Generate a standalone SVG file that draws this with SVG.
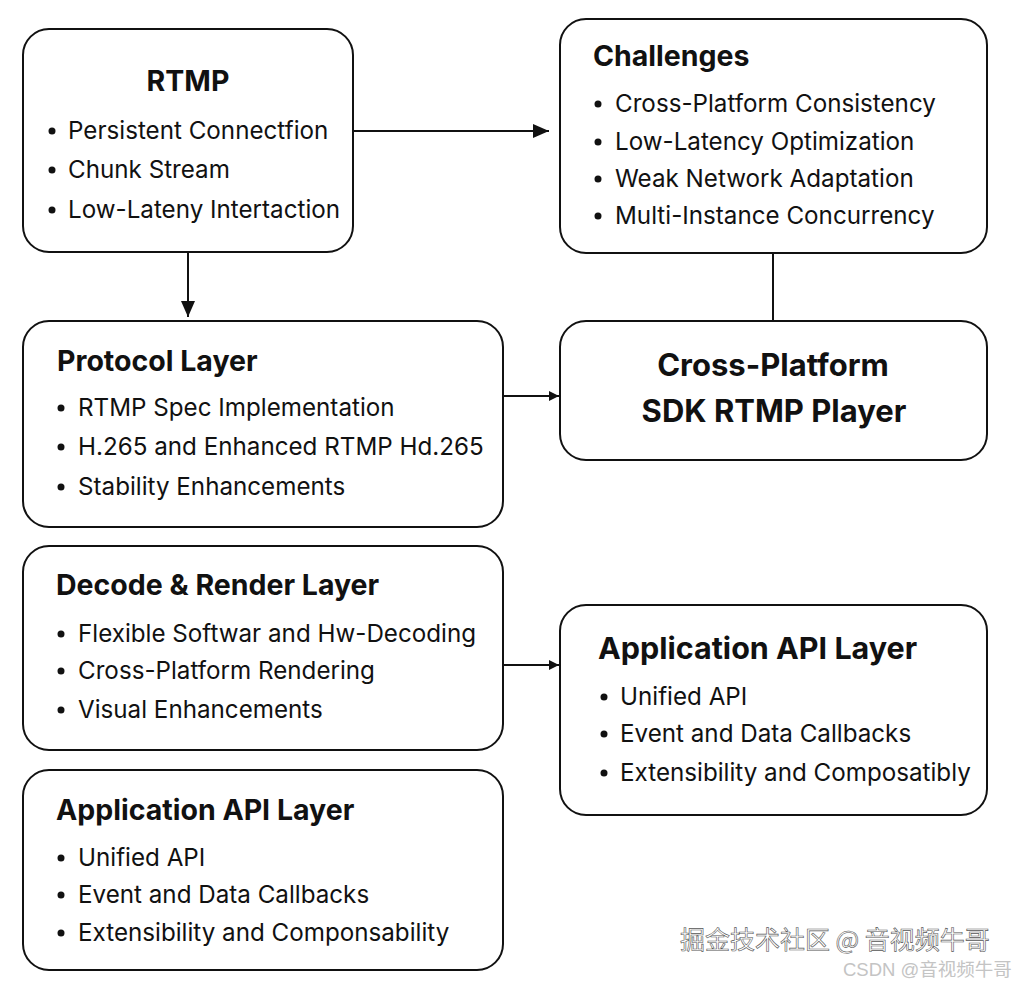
<svg xmlns="http://www.w3.org/2000/svg" width="1017" height="984" viewBox="0 0 1017 984">
<defs>
<marker id="arr" viewBox="0 0 10 10" refX="10" refY="5" markerWidth="10" markerHeight="10" markerUnits="userSpaceOnUse" orient="auto"><path d="M0,0 L10,5 L0,10 z" fill="#111"/></marker>
<marker id="arrL" viewBox="0 0 16 14" refX="16" refY="7" markerWidth="16" markerHeight="14" markerUnits="userSpaceOnUse" orient="auto"><path d="M0,0 L16,7 L0,14 z" fill="#111"/></marker>
<style>
.box{fill:#fff;stroke:#111;stroke-width:2}
.t{font-family:Inter,"Noto Sans",sans-serif;font-weight:700;fill:#111}
.b{font-family:Inter,"Noto Sans",sans-serif;font-size:24.2px;fill:#111}
.dot{fill:#111}
.c{stroke:#111;stroke-width:2;fill:none}
.wm{font-family:"Noto Sans CJK SC",sans-serif;font-size:25px;fill:#fff;stroke:#555;stroke-width:0.6}
.wm2{font-family:"Liberation Sans","Noto Sans CJK SC",sans-serif;font-size:18.5px;fill:#c4c4c4}
</style>
</defs>
<rect width="1017" height="984" fill="#fff"/>
<g id="connectors">
<line class="c" x1="353" y1="131" x2="549" y2="131" marker-end="url(#arrL)"/>
<line class="c" x1="188" y1="252" x2="188" y2="317" marker-end="url(#arrL)"/>
<line class="c" x1="773" y1="253" x2="773" y2="321"/>
<line class="c" x1="503" y1="396" x2="559" y2="396" marker-end="url(#arr)"/>
<line class="c" x1="503" y1="665" x2="559" y2="665" marker-end="url(#arr)"/>
</g>
<g id="rtmp">
<rect class="box" x="23" y="29" width="330" height="223" rx="26"/>
<text class="t" x="188" y="91" font-size="28.5" text-anchor="middle">RTMP</text>
<circle class="dot" cx="52" cy="131" r="3.5"/><text class="b" x="68" y="139">Persistent Connectfion</text>
<circle class="dot" cx="52" cy="170" r="3.5"/><text class="b" x="68" y="178">Chunk Stream</text>
<circle class="dot" cx="52" cy="210" r="3.5"/><text class="b" x="68" y="218">Low-Lateny Intertaction</text>
</g>
<g id="challenges">
<rect class="box" x="560" y="19" width="427" height="234" rx="26"/>
<text class="t" x="593" y="66" font-size="28.5">Challenges</text>
<circle class="dot" cx="598" cy="104" r="3.5"/><text class="b" x="615" y="112">Cross-Platform Consistency</text>
<circle class="dot" cx="598" cy="142" r="3.5"/><text class="b" x="615" y="150">Low-Latency Optimization</text>
<circle class="dot" cx="598" cy="179" r="3.5"/><text class="b" x="615" y="187">Weak Network Adaptation</text>
<circle class="dot" cx="598" cy="216" r="3.5"/><text class="b" x="615" y="224">Multi-Instance Concurrency</text>
</g>
<g id="protocol">
<rect class="box" x="23" y="321" width="480" height="206" rx="26"/>
<text class="t" x="57" y="371" font-size="28.5">Protocol Layer</text>
<circle class="dot" cx="61" cy="408" r="3.5"/><text class="b" x="78" y="416">RTMP Spec Implementation</text>
<circle class="dot" cx="61" cy="447" r="3.5"/><text class="b" x="78" y="455">H.265 and Enhanced RTMP Hd.265</text>
<circle class="dot" cx="61" cy="487" r="3.5"/><text class="b" x="78" y="495">Stability Enhancements</text>
</g>
<g id="player">
<rect class="box" x="560" y="321" width="427" height="139" rx="26"/>
<text class="t" x="773" y="376" font-size="31" text-anchor="middle">Cross-Platform</text>
<text class="t" x="774" y="422" font-size="31" text-anchor="middle">SDK RTMP Player</text>
</g>
<g id="decode">
<rect class="box" x="23" y="546" width="480" height="204" rx="26"/>
<text class="t" x="56" y="595" font-size="28.5">Decode &amp; Render Layer</text>
<circle class="dot" cx="61" cy="634" r="3.5"/><text class="b" x="78" y="642">Flexible Softwar and Hw-Decoding</text>
<circle class="dot" cx="61" cy="671" r="3.5"/><text class="b" x="78" y="679">Cross-Platform Rendering</text>
<circle class="dot" cx="61" cy="710" r="3.5"/><text class="b" x="78" y="718">Visual Enhancements</text>
</g>
<g id="app-right">
<rect class="box" x="560" y="605" width="427" height="210" rx="26"/>
<text class="t" x="598" y="659" font-size="30.5">Application API Layer</text>
<circle class="dot" cx="604" cy="697" r="3.5"/><text class="b" x="620" y="705">Unified API</text>
<circle class="dot" cx="604" cy="734" r="3.5"/><text class="b" x="620" y="742">Event and Data Callbacks</text>
<circle class="dot" cx="604" cy="773" r="3.5"/><text class="b" x="620" y="781">Extensibility and Composatibly</text>
</g>
<g id="app-left">
<rect class="box" x="23" y="770" width="480" height="200" rx="26"/>
<text class="t" x="56" y="820" font-size="28.5">Application API Layer</text>
<circle class="dot" cx="61" cy="858" r="3.5"/><text class="b" x="78" y="866">Unified API</text>
<circle class="dot" cx="61" cy="895" r="3.5"/><text class="b" x="78" y="903">Event and Data Callbacks</text>
<circle class="dot" cx="61" cy="933" r="3.5"/><text class="b" x="78" y="941">Extensibility and Componsability</text>
</g>
<g id="watermark">
<text class="wm" x="680" y="949">掘金技术社区 @ 音视频牛哥</text>
<text class="wm2" x="843" y="976">CSDN @音视频牛哥</text>
</g>
</svg>
